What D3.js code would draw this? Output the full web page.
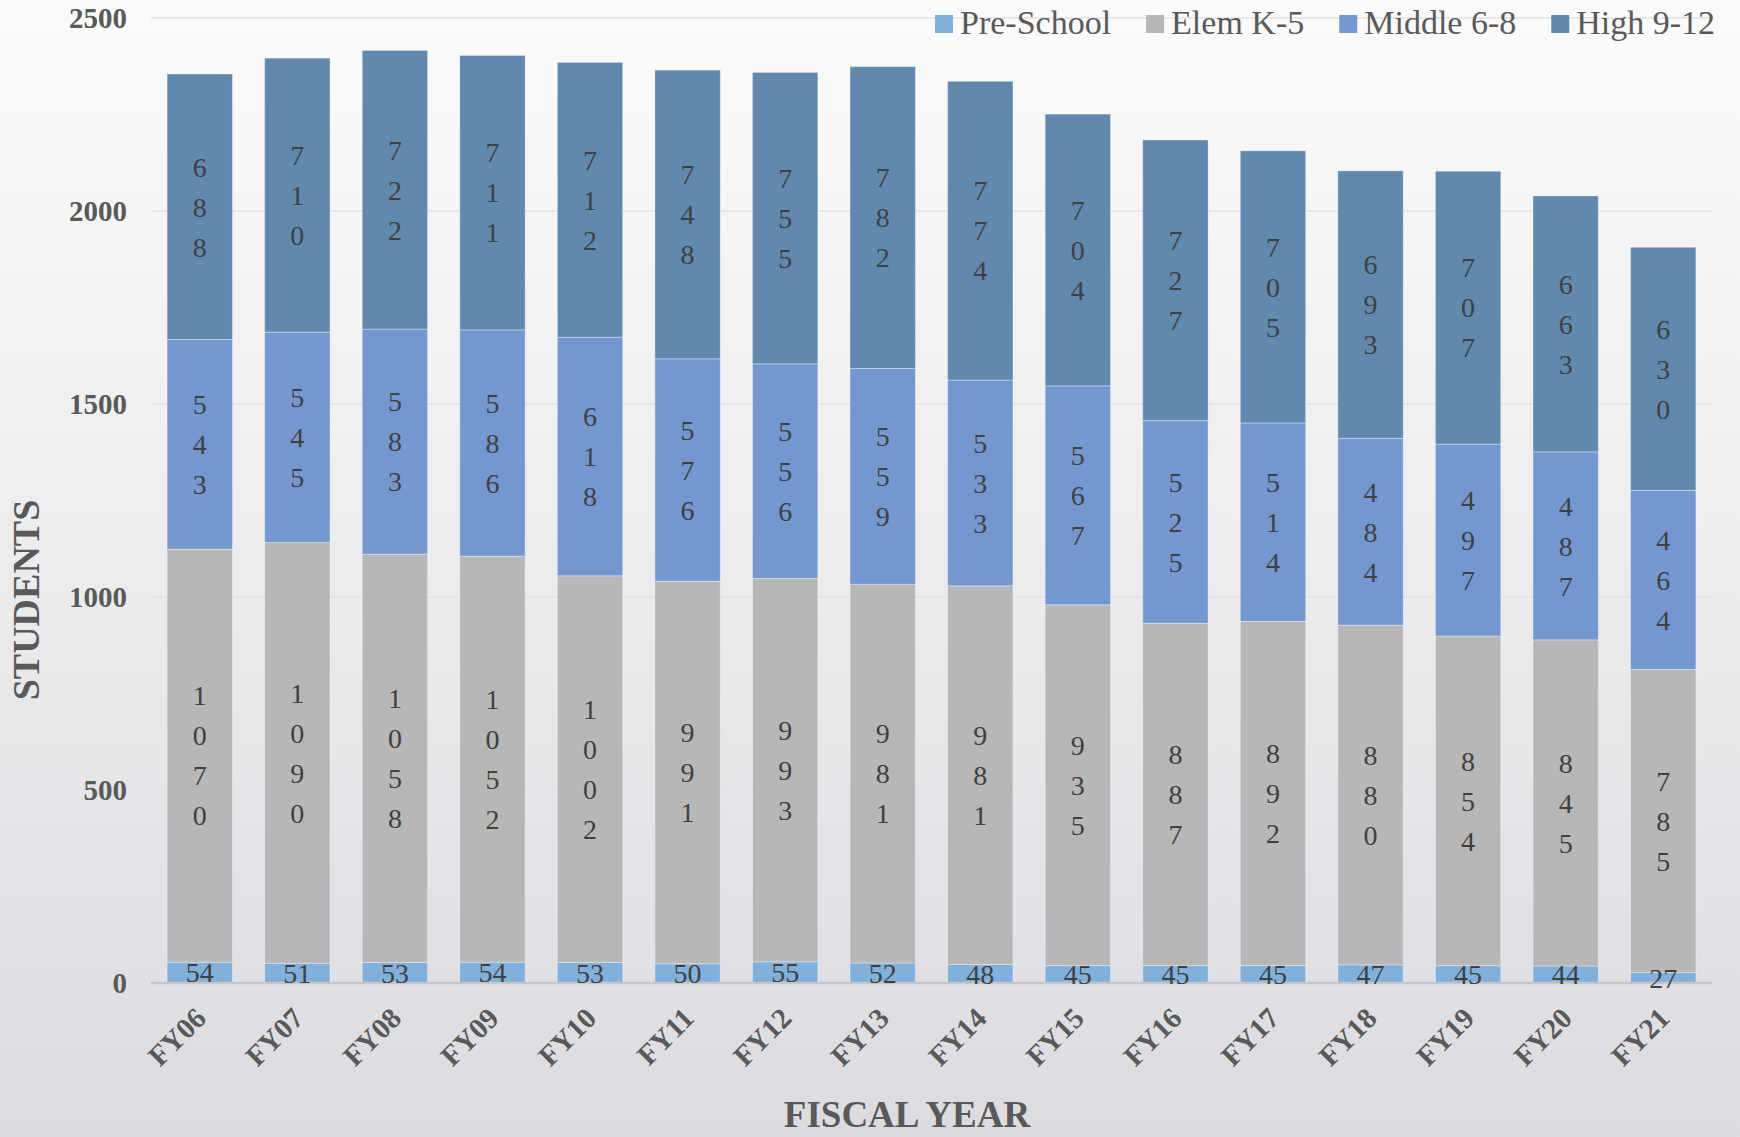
<!DOCTYPE html>
<html>
<head>
<meta charset="utf-8">
<script src="https://cdn.jsdelivr.net/npm/d3@7"></script>
<style>
  html, body { margin: 0; padding: 0; background: #ececee; }
  svg { display: block; }
</style>
</head>
<body>
<div id="chart"></div>
<script>
const years = ['FY06', 'FY07', 'FY08', 'FY09', 'FY10', 'FY11', 'FY12', 'FY13',
    'FY14', 'FY15', 'FY16', 'FY17', 'FY18', 'FY19', 'FY20', 'FY21'];
const preSchool = [54, 51, 53, 54, 53, 50, 55, 52, 48, 45, 45, 45, 47, 45, 44, 27];
const elemK5 = [1070, 1090, 1058, 1052, 1002, 991, 993, 981, 981, 935, 887, 892, 880, 854, 845, 785];
const middle68 = [543, 545, 583, 586, 618, 576, 556, 559, 533, 567, 525, 514, 484, 497, 487, 464];
const high912 = [688, 710, 722, 711, 712, 748, 755, 782, 774, 704, 727, 705, 693, 707, 663, 630];
const seriesNames = ['Pre-School', 'Elem K-5', 'Middle 6-8', 'High 9-12'];
const seriesColors = ['#82b0dc', '#b7b7b7', '#7597d0', '#6189ae'];
const yTicks = [0, 500, 1000, 1500, 2000, 2500];

const width = 1740, height = 1137;
const margin = { top: 18, right: 28, bottom: 154, left: 151 };
const serif = '"Liberation Serif", "Times New Roman", serif';
const axisGrey = '#595959';

const rows = years.map((yr, i) => ({
    year: yr,
    'Pre-School': preSchool[i],
    'Elem K-5': elemK5[i],
    'Middle 6-8': middle68[i],
    'High 9-12': high912[i]
}));

const svg = d3.select('#chart').append('svg')
    .attr('width', width)
    .attr('height', height);

// background: light at top, greyer at the bottom
const grad = svg.append('defs').append('linearGradient')
    .attr('id', 'bg')
    .attr('x1', 0).attr('y1', 0).attr('x2', 0).attr('y2', 1);
grad.append('stop').attr('offset', '0%').attr('stop-color', '#fbfbfb');
grad.append('stop').attr('offset', '50%').attr('stop-color', '#ececee');
grad.append('stop').attr('offset', '100%').attr('stop-color', '#dcdbe0');
svg.append('rect').attr('width', width).attr('height', height).attr('fill', 'url(#bg)');

const x = d3.scaleBand()
    .domain(years)
    .range([margin.left, width - margin.right])
    .paddingInner(0.33)
    .paddingOuter(0.165);

const y = d3.scaleLinear()
    .domain([0, 2500])
    .range([height - margin.bottom, margin.top]);

// gridlines
svg.append('g')
    .selectAll('line')
    .data(yTicks.filter(d => d > 0))
    .enter()
    .append('line')
    .attr('x1', margin.left)
    .attr('x2', width - margin.right)
    .attr('y1', d => y(d))
    .attr('y2', d => y(d))
    .attr('stroke', '#e2e2e4')
    .attr('stroke-width', 1.5);

// y axis labels
const yAxis = svg.append('g')
    .attr('transform', `translate(${margin.left - 24},0)`)
    .call(d3.axisLeft(y).tickValues(yTicks).tickSize(0).tickPadding(0).tickFormat(d3.format('d')));
yAxis.select('.domain').remove();
yAxis.selectAll('text')
    .attr('fill', axisGrey)
    .style('font-family', serif)
    .style('font-size', '29px')
    .style('font-weight', 'bold');

// stacked bars
const stacked = d3.stack().keys(seriesNames)(rows);

const layers = svg.append('g')
    .selectAll('g')
    .data(stacked)
    .enter()
    .append('g')
    .attr('fill', (d, i) => seriesColors[i]);

layers.selectAll('rect')
    .data(d => d)
    .enter()
    .append('rect')
    .attr('x', d => x(d.data.year))
    .attr('width', x.bandwidth())
    .attr('y', d => y(d[1]))
    .attr('height', d => y(d[0]) - y(d[1]))
    .attr('stroke', 'rgba(255,255,255,0.35)')
    .attr('stroke-width', 1);

// baseline (below the labels)
svg.append('line')
    .attr('x1', margin.left)
    .attr('x2', width - margin.right)
    .attr('y1', y(0))
    .attr('y2', y(0))
    .attr('stroke', '#c6c6c8')
    .attr('stroke-width', 2.5);

// data labels: narrow bars make 3+ digit values wrap one digit per line
const lineH = 40;
const labels = svg.append('g');
stacked.forEach(layer => {
    labels.append('g')
        .selectAll('text')
        .data(layer)
        .enter()
        .append('text')
        .attr('text-anchor', 'middle')
        .attr('fill', '#404040')
        .style('font-family', serif)
        .style('font-size', '28px')
        .each(function(d) {
            const val = String(d[1] - d[0]);
            const chars = val.length > 2 ? val.split('') : [val];
            const cx = x(d.data.year) + x.bandwidth() / 2;
            const cy = y((d[0] + d[1]) / 2);
            d3.select(this).selectAll('tspan')
                .data(chars)
                .enter()
                .append('tspan')
                .attr('x', cx)
                .attr('y', (c, i) => cy + (i - (chars.length - 1) / 2) * lineH)
                .attr('dy', '0.35em')
                .text(c => c);
        });
});

// x axis labels
svg.append('g')
    .selectAll('text')
    .data(years)
    .enter()
    .append('text')
    .attr('transform', d => `translate(${x(d) + x.bandwidth() / 2 + 8},1020) rotate(-45)`)
    .attr('text-anchor', 'end')
    .attr('fill', axisGrey)
    .style('font-family', serif)
    .style('font-size', '29px')
    .style('font-weight', 'bold')
    .text(d => d);

// axis titles
svg.append('text')
    .attr('transform', 'translate(39,600) rotate(-90)')
    .attr('text-anchor', 'middle')
    .attr('fill', axisGrey)
    .style('font-family', serif)
    .style('font-size', '38px')
    .style('font-weight', 'bold')
    .text('STUDENTS');

svg.append('text')
    .attr('x', 907)
    .attr('y', 1127)
    .attr('text-anchor', 'middle')
    .attr('fill', axisGrey)
    .style('font-family', serif)
    .style('font-size', '37px')
    .style('font-weight', 'bold')
    .text('FISCAL YEAR');

// legend
const legend = svg.append('g');
let lx = 935;
seriesNames.forEach((name, i) => {
    legend.append('rect')
        .attr('x', lx)
        .attr('y', 15)
        .attr('width', 18)
        .attr('height', 18)
        .attr('fill', seriesColors[i]);
    const t = legend.append('text')
        .attr('x', lx + 25)
        .attr('y', 34)
        .attr('fill', axisGrey)
        .style('font-family', serif)
        .style('font-size', '34px')
        .text(name);
    lx += 25 + t.node().getComputedTextLength() + 35;
});
</script>
</body>
</html>
